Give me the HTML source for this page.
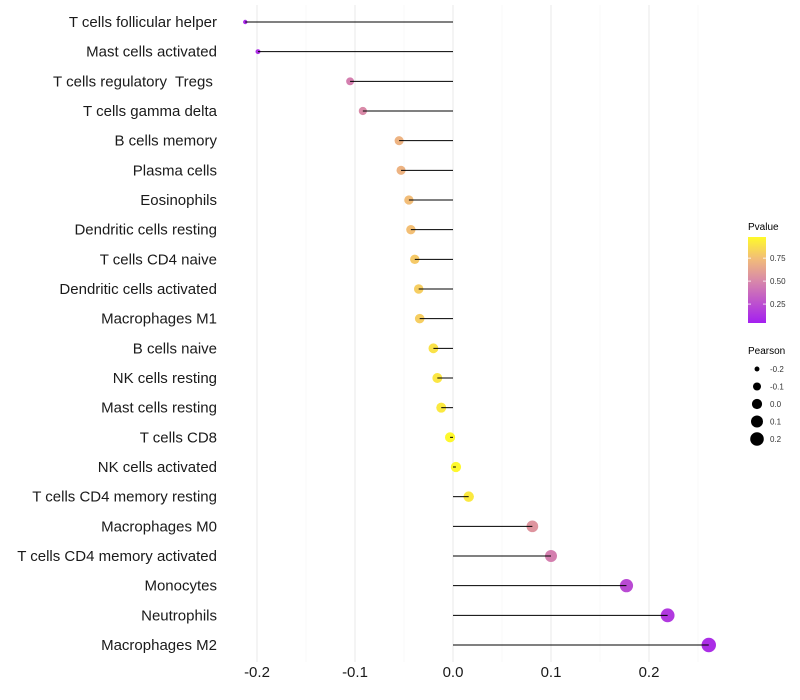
<!DOCTYPE html>
<html><head><meta charset="utf-8"><style>
body{margin:0;background:#fff}
svg{display:block;font-family:"Liberation Sans",sans-serif}
</style></head><body>
<svg id="chart" width="800" height="700">
<defs><linearGradient id="pg" x1="0" y1="1" x2="0" y2="0">
<stop offset="0" stop-color="#a41ff0"/><stop offset="0.5" stop-color="#d98aa8"/><stop offset="0.75" stop-color="#f2bd78"/><stop offset="1" stop-color="#fffa2a"/></linearGradient></defs>
<g id="grid"></g>
<g id="marks"></g>
<g id="ylab"></g>
<g id="xlab"></g>
<g>
<text x="748" y="230" font-size="10" fill="#000">Pvalue</text>
<rect x="748" y="237" width="18" height="86" fill="url(#pg)"/>
<g id="cbticks"></g>
</g>
<g id="sizeleg">
<text x="748" y="354" font-size="10" fill="#000">Pearson</text>
</g>
</svg>
<script>
const categories=["T cells follicular helper","Mast cells activated","T cells regulatory  Tregs ","T cells gamma delta","B cells memory","Plasma cells","Eosinophils","Dendritic cells resting","T cells CD4 naive","Dendritic cells activated","Macrophages M1","B cells naive","NK cells resting","Mast cells resting","T cells CD8","NK cells activated","T cells CD4 memory resting","Macrophages M0","T cells CD4 memory activated","Monocytes","Neutrophils","Macrophages M2"];
const pearson=[-0.212,-0.199,-0.105,-0.092,-0.055,-0.053,-0.045,-0.043,-0.039,-0.035,-0.034,-0.020,-0.016,-0.012,-0.003,0.003,0.016,0.081,0.100,0.177,0.219,0.261];
const pvalue=[0.05,0.08,0.45,0.5,0.7,0.7,0.75,0.76,0.8,0.82,0.82,0.9,0.92,0.93,0.99,0.99,0.93,0.55,0.45,0.2,0.12,0.07];
const xTicks=[-0.2,-0.1,0.0,0.1,0.2];
const xTickLabels=["-0.2","-0.1","0.0","0.1","0.2"];
const cbTicks=[0.25,0.5,0.75];
const cbTickLabels=["0.25","0.50","0.75"];
const sizeVals=[-0.2,-0.1,0.0,0.1,0.2];
const sizeLabels=["-0.2","-0.1","0.0","0.1","0.2"];

const NS="http://www.w3.org/2000/svg";
const X=v=>453+v*980;
const Y=i=>22+i*(623/21);
const R=v=>Math.sqrt(Math.max(1,26+100*v));
function mk(t,a,p){const e=document.createElementNS(NS,t);for(const k in a)e.setAttribute(k,a[k]);p.appendChild(e);return e;}
function lerp(a,b,t){return a.map((v,i)=>Math.round(v+(b[i]-v)*t));}
function col(p){const s=[[0,[164,31,240]],[0.5,[217,138,168]],[0.75,[242,189,120]],[1,[255,250,42]]];
 for(let k=1;k<s.length;k++){if(p<=s[k][0]){const t=(p-s[k-1][0])/(s[k][0]-s[k-1][0]);return `rgb(${lerp(s[k-1][1],s[k][1],t).join(',')})`;}}
 return 'rgb(255,250,42)';}

const grid=document.getElementById('grid');
for(let v=-0.25;v<=0.2501;v+=0.05){
 const major=Math.abs(Math.round(v*100)%10)<1;
 const x=X(v); if(x<228||x>735)continue;
 const l=mk('line',{x1:x,x2:x,y1:5,y2:662,stroke:major?'#ebebeb':'#f5f5f5','stroke-width':major?1.1:0.6},grid);
 
 
}
const marks=document.getElementById('marks'),ylab=document.getElementById('ylab'),xlab=document.getElementById('xlab');
categories.forEach((c,i)=>{
 const y=Y(i),v=pearson[i];
 const pt=mk('circle',{cx:X(v),cy:y,r:R(v),fill:col(pvalue[i])},marks);
 
 
 const ln=mk('line',{x1:X(0),x2:X(v),y1:y,y2:y,stroke:'#000','stroke-width':1},marks);
 
 
 const t=mk('text',{x:217,y:y+5,'text-anchor':'end','font-size':15,fill:'#1a1a1a','xml:space':'preserve'},ylab);
 t.setAttribute('style','white-space:pre');
 t.textContent=c;
 
 
});
xTicks.forEach((v,i)=>{
 const t=mk('text',{x:X(v),y:677,'text-anchor':'middle','font-size':15,fill:'#1a1a1a'},xlab);
 t.textContent=xTickLabels[i];
 
 
});
const cb=document.getElementById('cbticks');
const CY=p=>322-(p-0.055)*(85/0.925);
cbTicks.forEach((p,i)=>{
 const y=CY(p);
 mk('line',{x1:748,x2:751,y1:y,y2:y,stroke:'#fff','stroke-width':0.8},cb);
 mk('line',{x1:763,x2:766,y1:y,y2:y,stroke:'#fff','stroke-width':0.8},cb);
 const t=mk('text',{x:770,y:y+3,'font-size':8,fill:'#333'},cb);
 t.textContent=cbTickLabels[i];
 
 
});
const sl=document.getElementById('sizeleg');
sizeVals.forEach((v,i)=>{
 const y=369+i*17.5;
 const c=mk('circle',{cx:757,cy:y,r:R(v),fill:'#000'},sl);
 
 
 const t=mk('text',{x:770,y:y+3,'font-size':8,fill:'#333'},sl);
 t.textContent=sizeLabels[i];
 
 
});
</script>
</body></html>
